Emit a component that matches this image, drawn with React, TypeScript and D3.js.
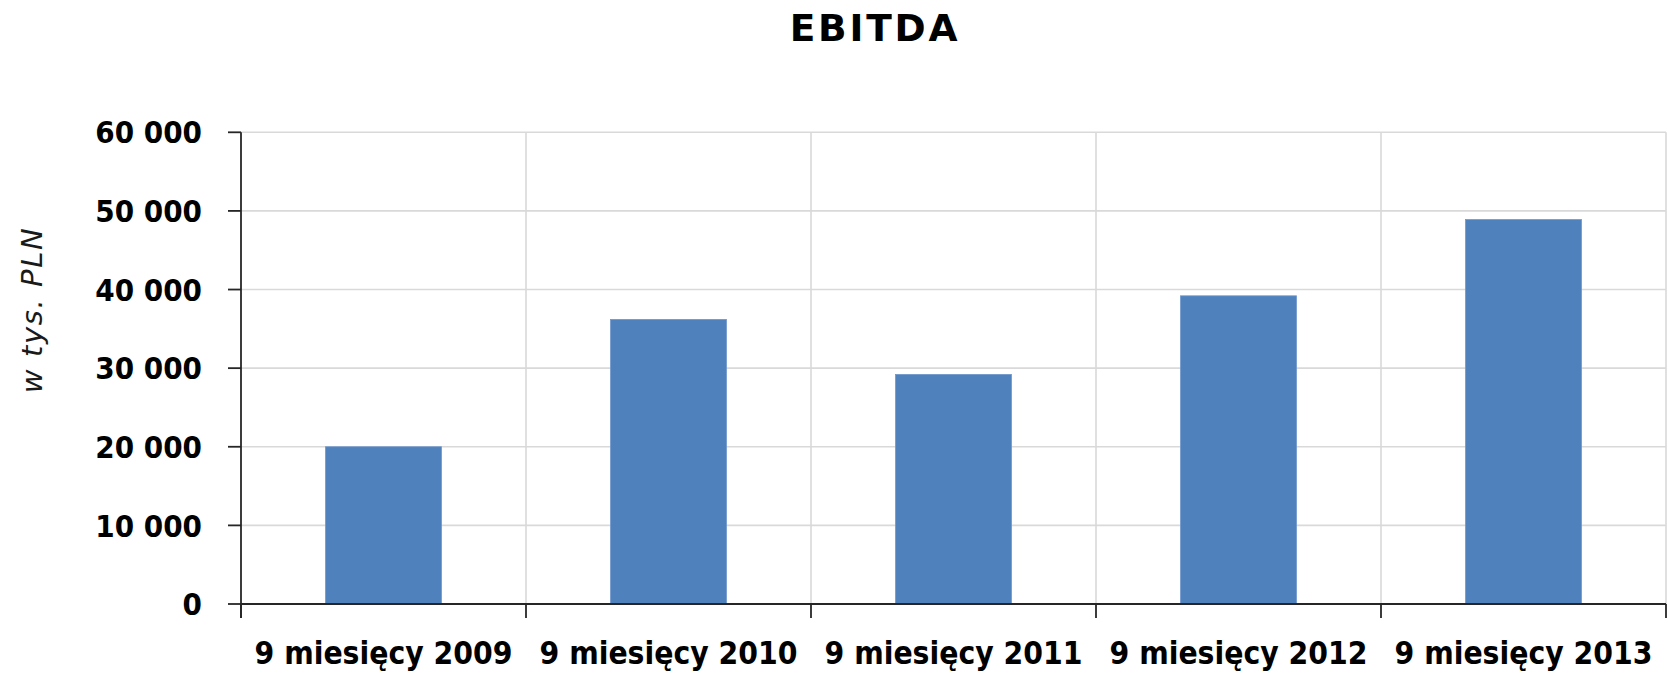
import React from "react";
import * as d3 from "d3";

const categories = ["9 miesięcy 2009", "9 miesięcy 2010", "9 miesięcy 2011", "9 miesięcy 2012", "9 miesięcy 2013"];
const values = [20000, 36200, 29200, 39200, 48900];
const yTicks = [0, 10000, 20000, 30000, 40000, 50000, 60000];
const title = "EBITDA";
const yTitle = "w tys. PLN";

const W = 1668;
const H = 675;
const left = 241;
const right = 1666;
const top = 132.3;
const bottom = 604;

const fmt = (v: number) => d3.format(",")(v).replace(/,/g, " ");

export default function App() {
  const y = d3.scaleLinear().domain([0, 60000]).range([bottom, top]);
  const slots = d3.scaleBand<string>().domain(categories).range([left, right]).padding(0);
  const x = d3
    .scaleBand<string>()
    .domain(categories)
    .range([left, right])
    .paddingInner(0.593)
    .paddingOuter(0.2965);
  const boundaries = [left, ...categories.map((c) => (slots(c) as number) + slots.bandwidth())];
  const labelFont = "'DejaVu Sans Condensed', 'DejaVu Sans', sans-serif";
  return (
    <svg
      width={W}
      height={H}
      viewBox={`0 0 ${W} ${H}`}
      style={{ position: "absolute", left: 0, top: 0, display: "block", background: "#fff" }}
    >
      <rect x={0} y={0} width={W} height={H} fill="#fff" />
      <text
        x={875}
        y={41}
        textAnchor="middle"
        fontFamily="'DejaVu Sans', Verdana, sans-serif"
        fontWeight="bold"
        fontSize={37.5}
        letterSpacing={2.8}
        fill="#000"
      >
        {title}
      </text>
      {/* horizontal gridlines */}
      {yTicks.map((t) => (
        <line key={"h" + t} x1={left} x2={right} y1={y(t)} y2={y(t)} stroke="#d9d9d9" strokeWidth={1.6} />
      ))}
      {/* vertical gridlines */}
      {boundaries.slice(1).map((b, i) => (
        <line key={"v" + i} x1={b} x2={b} y1={top} y2={bottom} stroke="#d9d9d9" strokeWidth={1.6} />
      ))}
      {/* bars */}
      {categories.map((c, i) => (
        <rect
          key={c}
          x={x(c)}
          y={y(values[i])}
          width={x.bandwidth()}
          height={y(0) - y(values[i])}
          fill="#4F81BD"
          stroke="#6f97cc"
          strokeWidth={0.8}
        />
      ))}
      {/* y axis */}
      <line x1={left} x2={left} y1={top} y2={bottom + 14} stroke="#262626" strokeWidth={1.8} />
      {yTicks.map((t) => (
        <g key={"yt" + t}>
          <line x1={left - 13} x2={left} y1={y(t)} y2={y(t)} stroke="#262626" strokeWidth={1.8} />
          <text
            x={202}
            y={y(t)}
            dy="0.36em"
            textAnchor="end"
            fontFamily={labelFont}
            fontWeight="bold"
            fontSize={31}
            fill="#000"
          >
            {fmt(t)}
          </text>
        </g>
      ))}
      {/* x axis */}
      <line x1={left} x2={right} y1={bottom} y2={bottom} stroke="#262626" strokeWidth={1.8} />
      {boundaries.map((b, i) => (
        <line key={"xt" + i} x1={b} x2={b} y1={bottom} y2={bottom + 14} stroke="#262626" strokeWidth={1.8} />
      ))}
      {categories.map((c) => (
        <text
          key={"xl" + c}
          x={(x(c) as number) + x.bandwidth() / 2}
          y={664}
          textAnchor="middle"
          fontFamily={labelFont}
          fontWeight="bold"
          fontSize={31.5}
          fill="#000"
        >
          {c}
        </text>
      ))}
      <text
        transform={`translate(42, 310) rotate(-90)`}
        textAnchor="middle"
        fontFamily="'DejaVu Sans', Verdana, sans-serif"
        fontStyle="italic"
        fontSize={29}
        letterSpacing={1.6}
        fill="#1a1a1a"
      >
        {yTitle}
      </text>
    </svg>
  );
}
